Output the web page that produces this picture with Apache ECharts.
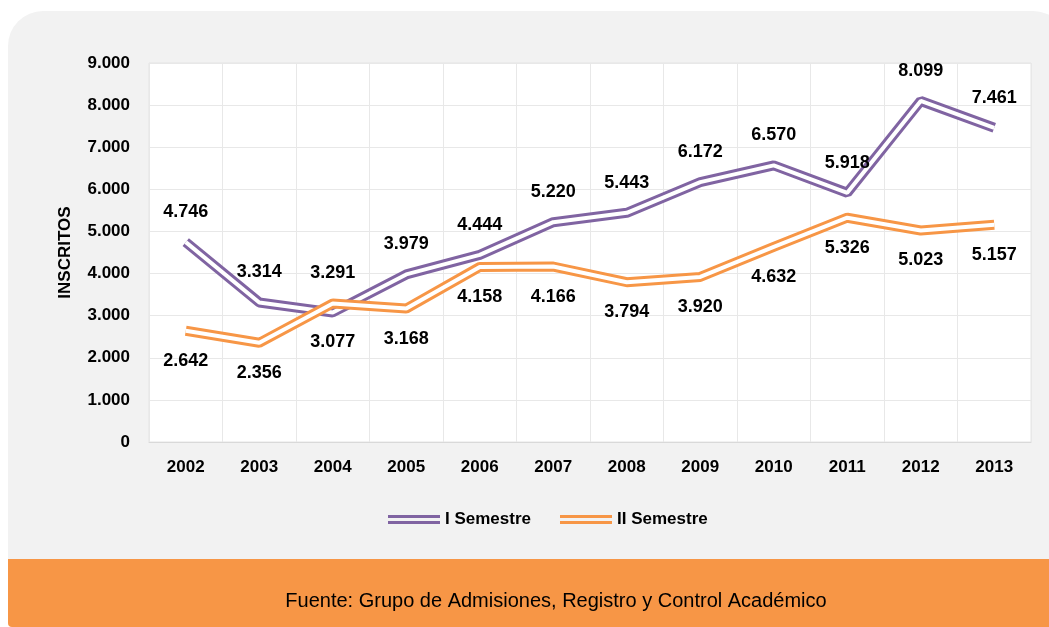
<!DOCTYPE html>
<html>
<head>
<meta charset="utf-8">
<script src="https://cdn.jsdelivr.net/npm/echarts@6/dist/echarts.min.js"></script>
<style>
  html, body { margin: 0; padding: 0; background: #fff; }
  #chart { width: 1049px; height: 627px; }
</style>
</head>
<body>
<div id="chart"></div>
<script>
  // datos
  const years = ['2002', '2003', '2004', '2005', '2006', '2007', '2008', '2009', '2010', '2011', '2012', '2013'];
  const semestre1 = [4746, 3314, 3077, 3979, 4444, 5220, 5443, 6172, 6570, 5918, 8099, 7461];
  const semestre2 = [2642, 2356, 3291, 3168, 4158, 4166, 3794, 3920, 4632, 5326, 5023, 5157];
  const yTicks = [0, 1000, 2000, 3000, 4000, 5000, 6000, 7000, 8000, 9000];
  // años donde las etiquetas van al reves
  const swapYears = ['2004'];

  const purple = '#8064a2';
  const orange = '#f79646';
  const font = '"Liberation Sans", Arial, sans-serif';

  function fmt(v) {
    return v >= 1000 ? Math.floor(v / 1000) + '.' + String(v % 1000).padStart(3, '0') : String(v);
  }

  function withLabels(values, normalPos) {
    const other = normalPos === 'top' ? 'bottom' : 'top';
    return values.map((v, i) => ({
      value: v,
      label: { position: swapYears.includes(years[i]) ? other : normalPos }
    }));
  }

  const labelStyle = {
    show: true,
    distance: 21,
    color: '#000',
    fontFamily: font,
    fontWeight: 'bold',
    fontSize: 18,
    formatter: p => fmt(p.value)
  };

  function mainSeries(name, values, color, pos) {
    return {
      name: name,
      type: 'line',
      data: withLabels(values, pos),
      color: color,
      lineStyle: { color: color, width: 10 },
      symbol: 'circle',
      symbolSize: 0,
      showSymbol: true,
      label: labelStyle,
      z: 2
    };
  }

  // linea blanca encima para hacer la linea doble
  function gapSeries(name, values) {
    return {
      name: name,
      type: 'line',
      data: values,
      symbol: 'none',
      silent: true,
      lineStyle: { color: '#fff', width: 4 },
      z: 2
    };
  }

  const chart = echarts.init(document.getElementById('chart'));
  chart.setOption({
    animation: false,
    backgroundColor: '#fff',
    graphic: [
      {
        type: 'rect',
        z: -10,
        shape: { x: 8, y: 11, width: 1060, height: 560, r: [35, 35, 0, 0] },
        style: { fill: '#f2f2f2' }
      },
      {
        type: 'rect',
        z: -9,
        shape: { x: 8, y: 559, width: 1060, height: 68, r: [0, 0, 0, 4] },
        style: { fill: orange }
      },
      {
        type: 'text',
        z: 10,
        x: 556,
        y: 601,
        style: {
          text: 'Fuente: Grupo de Admisiones, Registro y Control Académico',
          fill: '#000',
          font: '20px ' + font,
          align: 'center',
          verticalAlign: 'middle'
        }
      }
    ],
    grid: {
      left: 149, right: 18, top: 63, bottom: 185,
      show: true,
      backgroundColor: '#fff',
      borderColor: '#e4e4e4',
      borderWidth: 1
    },
    legend: {
      data: ['I Semestre', 'II Semestre'],
      left: 383,
      top: 506,
      itemWidth: 52,
      itemHeight: 9,
      itemGap: 29,
      icon: 'path://M0,0H52V3H0Z M0,6H52V9H0Z',
      textStyle: { color: '#000', fontFamily: font, fontWeight: 'bold', fontSize: 17 }
    },
    xAxis: {
      type: 'category',
      data: years,
      boundaryGap: true,
      axisLine: { lineStyle: { color: '#d9d9d9' } },
      axisTick: { show: false },
      splitLine: { show: true, interval: 0, lineStyle: { color: '#e8e8e8' } },
      axisLabel: { color: '#000', fontFamily: font, fontWeight: 'bold', fontSize: 17, margin: 17, interval: 0 }
    },
    yAxis: {
      type: 'value',
      min: yTicks[0],
      max: yTicks[yTicks.length - 1],
      interval: 1000,
      name: 'INSCRITOS',
      nameLocation: 'middle',
      nameGap: 75,
      nameTextStyle: { color: '#000', fontFamily: font, fontWeight: 'bold', fontSize: 17 },
      axisLine: { show: false },
      axisTick: { show: false },
      splitLine: { lineStyle: { color: '#e8e8e8' } },
      axisLabel: { color: '#000', fontFamily: font, fontWeight: 'bold', fontSize: 17, margin: 19, formatter: v => fmt(v) }
    },
    series: [
      mainSeries('I Semestre', semestre1, purple, 'top'),
      gapSeries('gap1', semestre1),
      mainSeries('II Semestre', semestre2, orange, 'bottom'),
      gapSeries('gap2', semestre2)
    ]
  });
</script>
</body>
</html>
